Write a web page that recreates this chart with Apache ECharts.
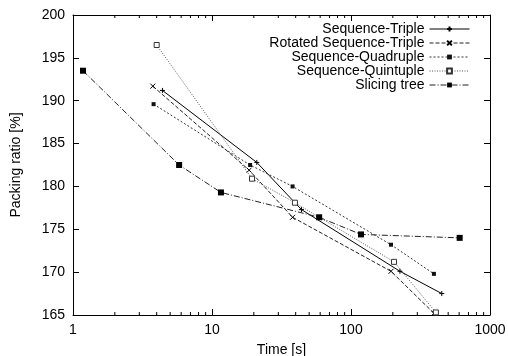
<!DOCTYPE html>
<html><head><meta charset="utf-8">
<script src="https://cdn.jsdelivr.net/npm/echarts@6/dist/echarts.min.js"></script>
<style>html,body{margin:0;padding:0;background:#fff}#c{width:508px;height:356px}</style>
</head><body><div id="c"></div>
<script>
var seriesNames = ['Sequence-Triple','Rotated Sequence-Triple','Sequence-Quadruple','Sequence-Quintuple','Slicing tree'];
var tripleX = [4.4, 21, 44, 225, 450];
var tripleY = [191.2, 182.8, 177.3, 170.1, 167.5];
var rotX = [3.75, 18.5, 38, 194, 395];
var rotY = [191.7, 181.9, 176.4, 170.1, 165.2];
var quadX = [3.8, 18.8, 38, 194, 395];
var quadY = [189.6, 182.5, 180.0, 173.2, 169.8];
var quinX = [4.0, 19.4, 39.5, 204, 408];
var quinY = [196.5, 180.9, 178.1, 171.2, 165.3];
var sliceX = [1.18, 5.8, 11.6, 59, 118, 605];
var sliceY = [193.5, 182.5, 179.3, 176.4, 174.4, 174.0];
var minorTickValues = [2,3,4,5,6,7,8,9,20,30,40,50,60,70,80,90,200,300,400,500,600,700,800,900];

function pairs(xs, ys){ return xs.map(function(x,i){ return [x, ys[i]]; }); }

var FONT = 'Liberation Sans';
var FS = 14;
var plusPath = 'path://M0,5L10,5M5,0L5,10';
var crossPath = 'path://M0,0L10,10M10,0L0,10';

function lineSeries(name, data, lineType, symbol, size, symColor, borderW, lineColor, borderColor){
  return {
    name: name, type: 'line', data: data, xAxisIndex: 0, yAxisIndex: 0,
    symbol: symbol, symbolSize: size, showSymbol: true, animation: false,
    lineStyle: { color: lineColor || '#000', width: 1, type: lineType },
    itemStyle: { color: symColor, borderColor: borderColor || '#000', borderWidth: borderW }
  };
}

var chart = echarts.init(document.getElementById('c'), null, {renderer: 'canvas'});
var axisCommon = {
  axisLine: { show: true, lineStyle: { color: '#000', width: 1 } },
  axisTick: { show: true, inside: true, length: 6, lineStyle: { color: '#000' } },
  splitLine: { show: false }
};
chart.setOption({
  animation: false,
  textStyle: { fontFamily: FONT },
  grid: { left: 73, right: 18, top: 15, bottom: 41, containLabel: false, outerBoundsMode: 'none' },
  legend: {
    data: seriesNames, orient: 'vertical', align: 'right', right: 33, top: 17,
    itemWidth: 40, itemHeight: 6, itemGap: 0,
    lineStyle: { width: 1 },
    textStyle: { fontFamily: FONT, fontSize: FS, color: '#000', lineHeight: 10 }
  },
  xAxis: [
    Object.assign({ type: 'log', logBase: 10, min: 1, max: 1000, position: 'bottom',
      name: 'Time [s]', nameLocation: 'middle', nameGap: 28,
      nameTextStyle: { fontFamily: FONT, fontSize: FS, color: '#000' },
      axisLabel: { fontFamily: FONT, fontSize: FS, color: '#000', margin: 8,
        formatter: function(v){ return String(v); } } }, axisCommon),
    Object.assign({ type: 'log', logBase: 10, min: 1, max: 1000, position: 'top',
      axisLabel: { show: false } }, axisCommon)
  ],
  yAxis: [
    Object.assign({ type: 'value', min: 165, max: 200, interval: 5, position: 'left',
      name: 'Packing ratio [%]', nameLocation: 'middle', nameGap: 50,
      nameTextStyle: { fontFamily: FONT, fontSize: FS, color: '#000' },
      axisLabel: { fontFamily: FONT, fontSize: FS, color: '#000', margin: 8 } }, axisCommon),
    Object.assign({ type: 'value', min: 165, max: 200, interval: 5, position: 'right',
      axisLabel: { show: false } }, axisCommon)
  ],
  series: [
    lineSeries(seriesNames[0], pairs(tripleX, tripleY), 'solid', plusPath, 5, 'none', 1, '#000'),
    lineSeries(seriesNames[1], pairs(rotX, rotY), [4,2], crossPath, 5, 'none', 1, '#222'),
    lineSeries(seriesNames[2], pairs(quadX, quadY), [2,2], 'rect', 4, '#111', 0, '#333'),
    lineSeries(seriesNames[3], pairs(quinX, quinY), [1,1.5], 'rect', 5, '#fff', 1, '#555', '#333'),
    lineSeries(seriesNames[4], pairs(sliceX, sliceY), [6,2,1,2], 'rect', 6, '#000', 0, '#222'),
    {
      type: 'custom', name: 'minor', xAxisIndex: 0, yAxisIndex: 0, silent: true,
      data: minorTickValues.map(function(v){ return [v, 165]; }),
      clip: false,
      renderItem: function(params, api){
        var v = api.value(0);
        var b = api.coord([v, 165]);
        var t = api.coord([v, 200]);
        return { type: 'group', children: [
          { type: 'line', shape: { x1: b[0], y1: b[1], x2: b[0], y2: b[1]-3 }, style: { stroke: '#000', lineWidth: 1 } },
          { type: 'line', shape: { x1: t[0], y1: t[1], x2: t[0], y2: t[1]+3 }, style: { stroke: '#000', lineWidth: 1 } }
        ]};
      }
    }
  ]
});
</script></body></html>
